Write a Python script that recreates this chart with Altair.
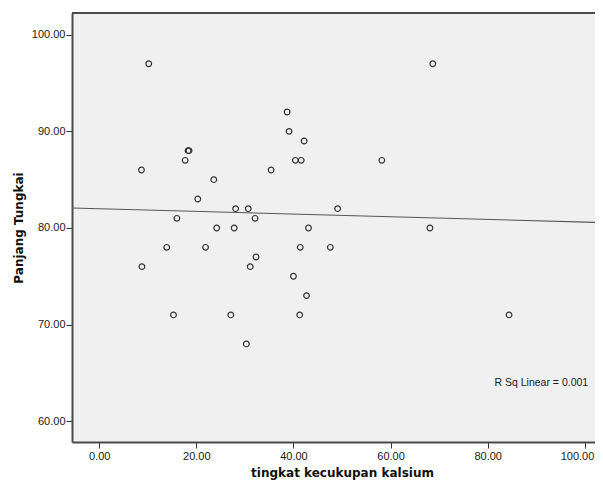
import altair as alt
import pandas as pd

# tingkat kecukupan kalsium (x) and Panjang Tungkai (y)
calcium = [10.2, 68.7, 38.7, 39.1, 42.2, 18.3, 18.5, 17.7, 40.4, 41.6,
           58.2, 8.7, 35.4, 23.6, 20.3, 28.1, 30.7, 49.1, 16.0, 32.1,
           24.2, 27.8, 43.1, 68.1, 13.9, 21.9, 41.4, 47.6, 32.3, 8.8,
           31.1, 40.0, 42.7, 15.3, 27.1, 41.3, 84.4, 30.3]
leg_length = [97, 97, 92, 90, 89, 88, 88, 87, 87, 87,
              87, 86, 86, 85, 83, 82, 82, 82, 81, 81,
              80, 80, 80, 80, 78, 78, 78, 78, 77, 76,
              76, 75, 73, 71, 71, 71, 71, 68]

x_ticks = [0, 20, 40, 60, 80, 100]
y_ticks = [60, 70, 80, 90, 100]
x_domain = [-5.6, 102.1]
y_domain = [57.85, 102.25]

annotation_text = ["R Sq Linear = 0.001"]
annotation_x = [100.7]
annotation_y = [64.0]

df = pd.DataFrame({"x": calcium, "y": leg_length})
ann = pd.DataFrame({"x": annotation_x, "y": annotation_y, "t": annotation_text})

W, H = 523, 429

xscale = alt.Scale(domain=x_domain, nice=False, zero=False)
yscale = alt.Scale(domain=y_domain, nice=False, zero=False)

label_font = "Liberation Sans"
title_font = "DejaVu Sans"
frame_color = "#4a4a4a"

xaxis = alt.Axis(
    title="tingkat kecukupan kalsium", values=x_ticks, format=".2f",
    grid=False, domain=True, domainColor=frame_color, domainWidth=2,
    ticks=True, tickSize=6, tickColor="#333333",
    tickWidth=1, labelFont=label_font, labelFontSize=11, labelColor="#1a1a1a",
    labelPadding=2,
    labelAlign=alt.condition("datum.value >= 100", alt.value("right"), alt.value("center")),
    labelOffset=alt.condition("datum.value >= 100", alt.value(9), alt.value(0)),
    titleFont=title_font, titleFontSize=12, titleFontWeight="bold",
    titleColor="#111111", titleBaseline="alphabetic", titleY=34, titleX=270,
)
yaxis = alt.Axis(
    title="Panjang Tungkai", values=y_ticks, format=".2f",
    grid=False, domain=True, domainColor=frame_color, domainWidth=2,
    ticks=True, tickSize=6, tickColor="#333333",
    tickWidth=1, labelFont=label_font, labelFontSize=11, labelColor="#1a1a1a",
    labelPadding=1, titleFont=title_font, titleFontSize=12, titleFontWeight="bold",
    titleColor="#111111", titlePadding=6,
)

points = alt.Chart(df).mark_point(
    shape="circle", filled=False, size=32, strokeWidth=1.2, color="#333333",
    opacity=1, clip=True,
).encode(
    x=alt.X("x:Q", scale=xscale, axis=xaxis),
    y=alt.Y("y:Q", scale=yscale, axis=yaxis),
)

fit = alt.Chart(df).transform_regression(
    "x", "y", method="linear", extent=x_domain
).mark_line(color="#555555", strokeWidth=1.1, clip=True).encode(
    x=alt.X("x:Q", scale=xscale),
    y=alt.Y("y:Q", scale=yscale),
)

label = alt.Chart(ann).mark_text(
    align="right", baseline="middle", font=label_font, fontSize=10.5,
    color="#1a1a1a",
).encode(
    x=alt.X("x:Q", scale=xscale),
    y=alt.Y("y:Q", scale=yscale),
    text="t:N",
)

top_frame = alt.Chart(ann).mark_rule(color=frame_color, strokeWidth=2).encode(
    x=alt.value(0), x2=alt.value(W), y=alt.value(0),
)

chart = alt.layer(fit, points, label, top_frame).properties(
    width=W, height=H,
    autosize=alt.AutoSizeParams(type="none"),
    padding={"left": 64, "top": 5, "right": 0, "bottom": 38},
    background="white",
).configure_view(
    fill="#F0F0F0", stroke=None,
)

chart.save("out.html", embed_options={"renderer": "svg", "actions": False})
